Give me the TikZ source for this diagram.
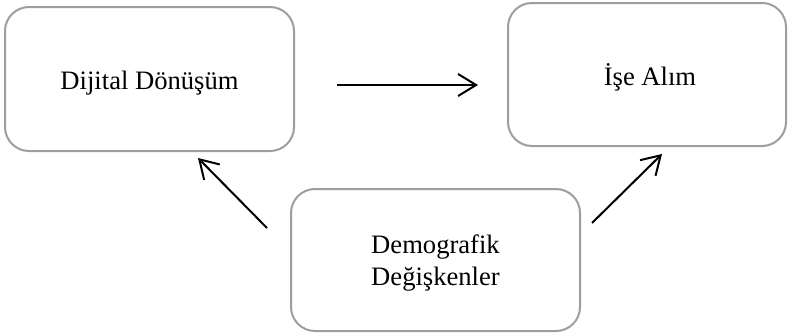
\documentclass[tikz,border=0pt]{standalone}
\usepackage{fontspec}
\setmainfont{Liberation Serif}
\usetikzlibrary{arrows.meta}
\begin{document}
\begin{tikzpicture}[x=1pt,y=-1pt,
  box/.style={draw=black!38,line width=2pt,rounded corners=24pt,fill=white},
  lbl/.style={font=\fontsize{26.6}{32}\selectfont,align=center,inner sep=0pt},
  arr/.style={line width=2pt,-{Straight Barb[length=18pt,width=22pt,line width=2pt]}}]
\useasboundingbox (0,0) rectangle (790,335);
\draw[box] (5,7) rectangle (294,151);
\draw[box] (508,3) rectangle (786,146);
\draw[box] (291,189) rectangle (580,331);
\node[lbl,anchor=base] (dd) at (149.5,89) {Dijital Dönüşüm};
\node[lbl,anchor=base] (ia) at (650,85) {İşe Alım};
\node[lbl,anchor=base] (dm) at (435.5,285) {Demografik\\Değişkenler};
\coordinate (h1) at (337,85);
\coordinate (h2) at (478,85);
\coordinate (l1) at (267,228);
\coordinate (l2) at (198,158);
\coordinate (r1) at (592,223);
\coordinate (r2) at (662,154);
\draw[arr] (h1) -- (h2);
\draw[arr] (l1) -- (l2);
\draw[arr] (r1) -- (r2);
\end{tikzpicture}
\end{document}
